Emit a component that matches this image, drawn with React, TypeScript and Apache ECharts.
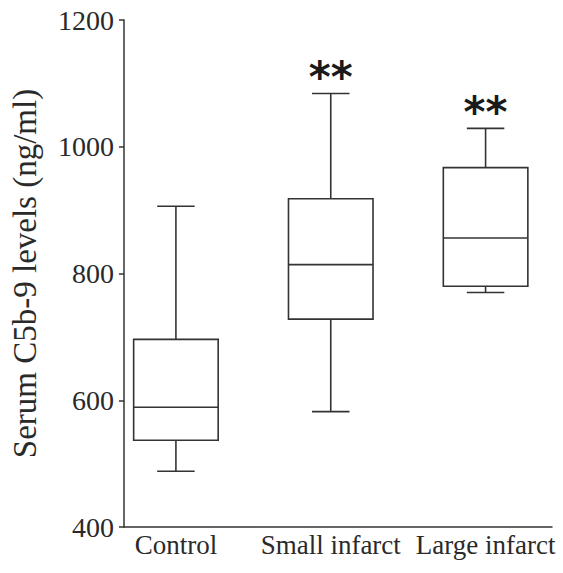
import React, { useEffect, useRef } from "react";
import * as echarts from "echarts";

const categories = ["Control", "Small infarct", "Large infarct"];
// [min, Q1, median, Q3, max]
const boxStats = [
  [488, 537, 589, 696, 906],
  [582, 728, 814, 918, 1084],
  [770, 780, 856, 967, 1029],
];
const significance = ["", "**", "**"];
const yTicks = { min: 400, max: 1200, interval: 200 };
const yTitle = "Serum C5b-9 levels (ng/ml)";

const FONT = '"Liberation Serif", "Times New Roman", serif';
const INK = "#333333";

export default function App() {
  const ref = useRef<HTMLDivElement>(null);
  useEffect(() => {
    if (!ref.current) return;
    const chart = echarts.init(ref.current, null, { renderer: "svg" });
    const data = boxStats.map((s, i) => [i, ...s]);
    const option = {
      animation: false,
      backgroundColor: "#ffffff",
      grid: [
        { left: 115, right: 11, top: 20, bottom: 46 },
        { left: 98.5, width: 472.5, top: 20, bottom: 46 },
      ],
      xAxis: [
        {
          gridIndex: 0,
          type: "category",
          data: categories,
          axisLine: { show: true, lineStyle: { color: INK, width: 1.5 } },
          axisTick: { show: false },
          axisLabel: { show: false },
          splitLine: { show: false },
        },
        {
          gridIndex: 1,
          type: "category",
          data: categories,
          axisLine: { show: false },
          axisTick: { show: false },
          axisLabel: {
            show: true,
            interval: 0,
            hideOverlap: false,
            color: "#2a2a2a",
            fontFamily: FONT,
            fontSize: 27,
            margin: 4,
          },
          splitLine: { show: false },
        },
      ],
      yAxis: [
        {
          gridIndex: 0,
          type: "value",
          min: yTicks.min,
          max: yTicks.max,
          interval: yTicks.interval,
          name: yTitle,
          nameLocation: "middle",
          nameGap: 83,
          nameTextStyle: { color: "#2a2a2a", fontFamily: FONT, fontSize: 33 },
          axisLine: { show: true, lineStyle: { color: INK, width: 1.5 } },
          axisTick: { show: true, length: 5, lineStyle: { color: INK, width: 1.5 } },
          axisLabel: {
            color: "#2a2a2a",
            fontFamily: FONT,
            fontSize: 28,
            margin: 10,
            formatter: (v: number) => String(v),
          },
          splitLine: { show: false },
        },
        {
          gridIndex: 1,
          type: "value",
          min: yTicks.min,
          max: yTicks.max,
          interval: yTicks.interval,
          show: false,
        },
      ],
      series: [
        {
          type: "custom",
          xAxisIndex: 1,
          yAxisIndex: 1,
          encode: { x: 0, y: [1, 2, 3, 4, 5] },
          data,
          renderItem: (params: any, api: any) => {
            const x = api.value(0);
            const band = api.size([1, 0])[0];
            const bw = band * 0.546;
            const cw = band * 0.242;
            const pMin = api.coord([x, api.value(1)]);
            const pQ1 = api.coord([x, api.value(2)]);
            const pMed = api.coord([x, api.value(3)]);
            const pQ3 = api.coord([x, api.value(4)]);
            const pMax = api.coord([x, api.value(5)]);
            const cx = pMed[0];
            const ls = { stroke: INK, lineWidth: 1.6, fill: "none" };
            const children: any[] = [
              { type: "rect", shape: { x: cx - bw / 2, y: pQ3[1], width: bw, height: pQ1[1] - pQ3[1] }, style: { ...ls, fill: "#ffffff" } },
              { type: "line", shape: { x1: cx - bw / 2, y1: pMed[1], x2: cx + bw / 2, y2: pMed[1] }, style: ls },
              { type: "line", shape: { x1: cx, y1: pQ3[1], x2: cx, y2: pMax[1] }, style: ls },
              { type: "line", shape: { x1: cx, y1: pQ1[1], x2: cx, y2: pMin[1] }, style: ls },
              { type: "line", shape: { x1: cx - cw / 2, y1: pMax[1], x2: cx + cw / 2, y2: pMax[1] }, style: ls },
              { type: "line", shape: { x1: cx - cw / 2, y1: pMin[1], x2: cx + cw / 2, y2: pMin[1] }, style: ls },
            ];
            const sig = significance[params.dataIndex];
            if (sig) {
              children.push({
                type: "text",
                style: {
                  text: sig,
                  x: cx,
                  y: pMax[1] + 5,
                  align: "center",
                  verticalAlign: "bottom",
                  fontFamily: '"DejaVu Sans", sans-serif',
                  fontSize: 42,
                  fontWeight: "bold",
                  fill: "#1a1a1a",
                },
              });
            }
            return { type: "group", children };
          },
        },
      ],
    };
    chart.setOption(option as any);
    return () => chart.dispose();
  }, []);
  return (
    <div
      ref={ref}
      style={{ position: "absolute", left: 0, top: 0, width: 563, height: 573 }}
    />
  );
}
